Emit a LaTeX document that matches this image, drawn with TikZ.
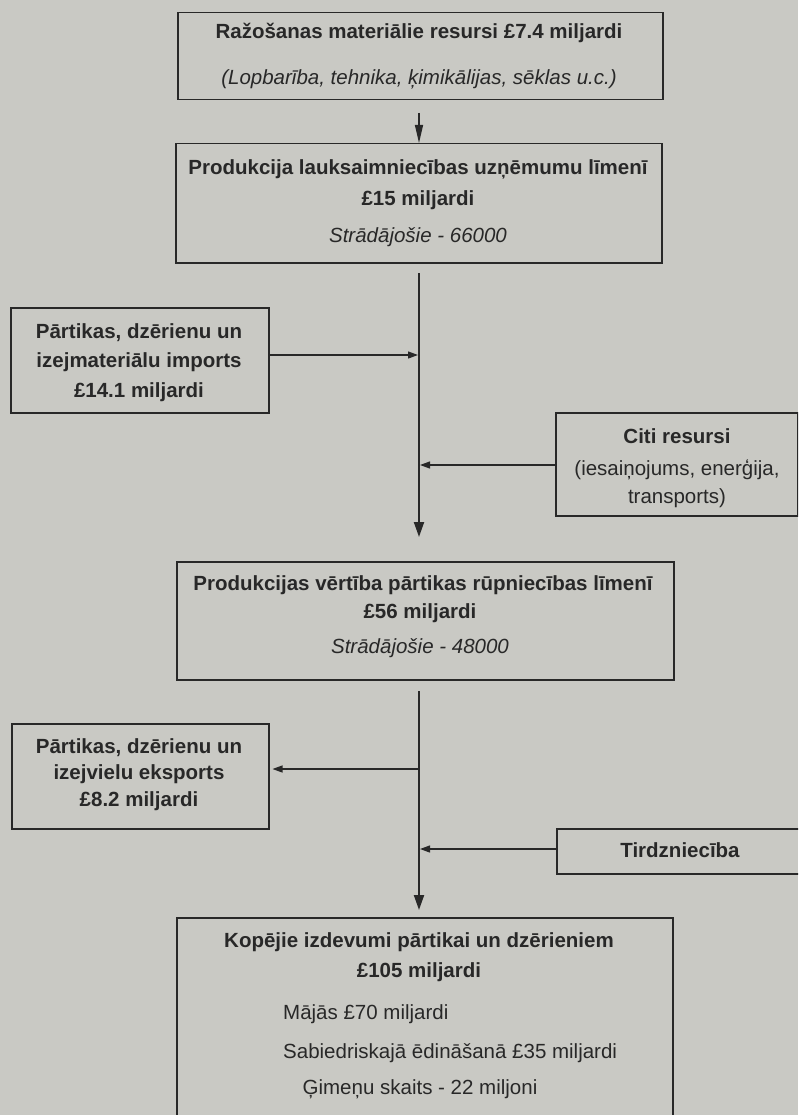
\documentclass[tikz,border=0pt]{standalone}
\usepackage{fontspec}
\setmainfont{Liberation Sans}
\usetikzlibrary{arrows.meta}
\definecolor{paper}{RGB}{201,201,196}
\definecolor{ink}{RGB}{40,40,40}
\begin{document}
\begin{tikzpicture}[x=1pt,y=-1pt,
  box/.style={draw=ink, line width=1.5pt, inner sep=0pt, anchor=north west},
  txt/.style={font=\fontsize{20.5}{24}\selectfont, text=ink, anchor=base, inner sep=0pt},
  txtb/.style={txt, font=\fontsize{20.5}{24}\selectfont\bfseries},
  txti/.style={txt, font=\fontsize{20.5}{24}\selectfont\itshape},
  trunk/.style={draw=ink, line width=2pt, -{Triangle[length=15pt,width=10pt]}},
  feed/.style={draw=ink, line width=1.3pt, -{Triangle[length=18pt,width=8pt]}},
  side/.style={draw=ink, line width=1.2pt, -{Triangle[length=10pt,width=7pt]}}]
\fill[paper] (0,0) rectangle (798,1115);
\useasboundingbox (0,0) rectangle (798,1115);
\clip (0,0) rectangle (798,1115);

% boxes
\node[box, minimum width=485pt, minimum height=87pt] (b1) at (177,12) {};
\node[box, minimum width=486pt, minimum height=119pt] (b2) at (175,143) {};
\node[box, minimum width=258pt, minimum height=105pt] (b3) at (10,307) {};
\node[box, minimum width=242pt, minimum height=103pt] (b4) at (555,412) {};
\node[box, minimum width=497pt, minimum height=118pt] (b5) at (176,561) {};
\node[box, minimum width=257pt, minimum height=105pt] (b6) at (11,723) {};
\node[box, minimum width=260pt, minimum height=45pt] (b7) at (556,828) {};
\node[box, minimum width=496pt, minimum height=230pt] (b8) at (176,917) {};

% texts
\node[txtb] (l11) at (419,39) {Ražošanas materiālie resursi £7.4 miljardi};
\node[txti] (l12) at (419,85) {(Lopbarība, tehnika, ķimikālijas, sēklas u.c.)};

\node[txtb] (l21) at (418,175) {Produkcija lauksaimniecības uzņēmumu līmenī};
\node[txtb] (l22) at (418,206) {£15 miljardi};
\node[txti] (l23) at (418,242) {Strādājošie - 66000};

\node[txtb] (l31) at (139,338) {Pārtikas, dzērienu un};
\node[txtb] (l32) at (139,367) {izejmateriālu imports};
\node[txtb] (l33) at (139,397) {£14.1 miljardi};

\node[txtb] (l41) at (677,443) {Citi resursi};
\node[txt] (l42) at (677,475) {(iesaiņojums, enerģija,};
\node[txt] (l43) at (677,503) {transports)};

\node[txtb] (l51) at (423,590) {Produkcijas vērtība pārtikas rūpniecības līmenī};
\node[txtb] (l52) at (420,618) {£56 miljardi};
\node[txti] (l53) at (420,653) {Strādājošie - 48000};

\node[txtb] (l61) at (139,753) {Pārtikas, dzērienu un};
\node[txtb] (l62) at (139,779) {izejvielu eksports};
\node[txtb] (l63) at (139,806) {£8.2 miljardi};

\node[txtb] (l71) at (680,857) {Tirdzniecība};

\node[txtb] (l81) at (419,947) {Kopējie izdevumi pārtikai un dzērieniem};
\node[txtb] (l82) at (419,977) {£105 miljardi};
\node[txt, anchor=base west] (l83) at (283,1019) {Mājās £70 miljardi};
\node[txt, anchor=base west] (l84) at (283,1058) {Sabiedriskajā ēdināšanā £35 miljardi};
\node[txt] (l85) at (420,1094) {Ģimeņu skaits - 22 miljoni};

% trunk coordinates
\coordinate (f0) at (419,113);
\coordinate (t1s) at (419,273);
\coordinate (t1e) at (419,537);
\coordinate (t2s) at (419,691);
\coordinate (t2e) at (419,910);
\coordinate (j1) at (418,355);
\coordinate (j2) at (420,465);
\coordinate (j3) at (418,769);
\coordinate (j4) at (420,849);

% connectors
\draw[feed] (f0) -- (f0 |- b2.north);
\draw[trunk] (t1s) -- (t1e);
\draw[trunk] (t2s) -- (t2e);
\draw[side] (b3.east |- j1) -- (j1);
\draw[side] (b4.west |- j2) -- (j2);
\draw[side] (j3) -- ([xshift=3pt]b6.east |- j3);
\draw[side] (b7.west |- j4) -- (j4);
\end{tikzpicture}
\end{document}
